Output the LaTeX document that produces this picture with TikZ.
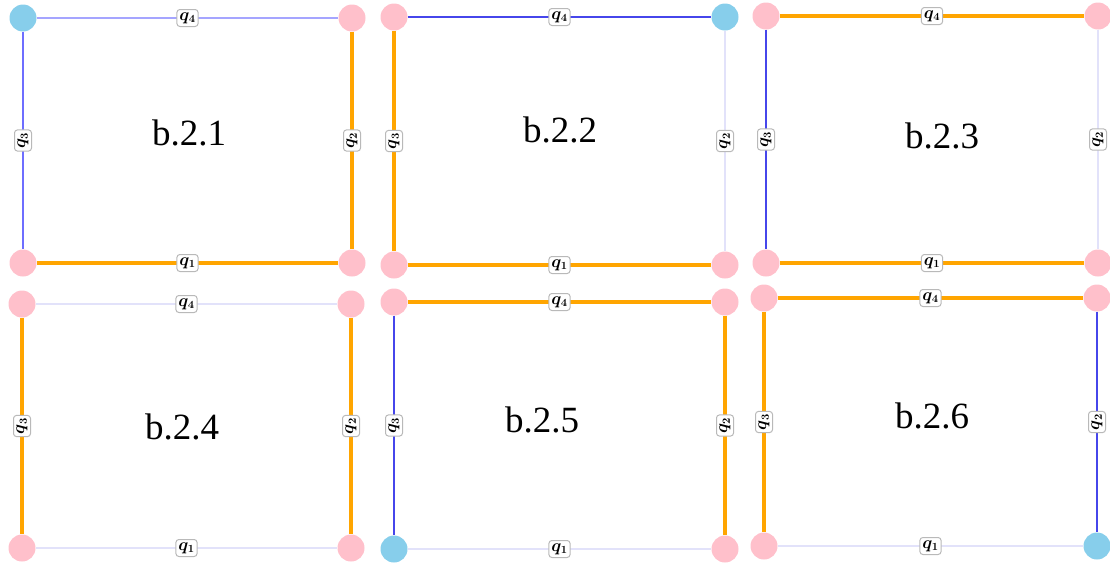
\documentclass[tikz,border=0pt]{standalone}
\usepackage{fontspec}
\setmainfont{Liberation Serif}
\definecolor{vpink}{RGB}{255,192,203}
\definecolor{vsky}{RGB}{135,206,235}
\definecolor{eorange}{RGB}{255,165,0}
\definecolor{eblue}{RGB}{70,70,235}
\definecolor{eblueA}{RGB}{110,110,255}
\definecolor{eblueB}{RGB}{165,165,255}
\definecolor{elight}{RGB}{226,226,250}
\begin{document}
\begin{tikzpicture}[x=1pt,y=-1pt,
  vp/.style={circle, fill=vpink, minimum size=27pt, inner sep=0pt},
  vb/.style={circle, fill=vsky, minimum size=27pt, inner sep=0pt},
  eo/.style={draw=eorange, line width=3.4pt},
  eb/.style={draw=eblue, line width=1.8pt},
  ebA/.style={draw=eblueA, line width=1.8pt},
  ebB/.style={draw=eblueB, line width=1.8pt},
  el/.style={draw=elight, line width=1.8pt},
  lbl/.style={draw=gray!55, line width=1pt, fill=white, rounded corners=3pt, inner xsep=2.5pt, inner ysep=2pt, minimum height=17pt, font=\fontsize{16}{18}\selectfont\boldmath},
  vl/.style={lbl, rotate=90},
  title/.style={font=\fontsize{37}{42}\selectfont}]
\useasboundingbox (0,0) rectangle (1110,565);

% Panel b.2.1
\node[vb] (a1) at (23,18) {};
\node[vp] (a2) at (352,18) {};
\node[vp] (a3) at (23,263) {};
\node[vp] (a4) at (352,263) {};
\draw[ebB] (a1) -- node[lbl] {$q_4$} (a2);
\draw[ebA] (a1) -- node[vl] {$q_3$} (a3);
\draw[eo] (a2) -- node[vl] {$q_2$} (a4);
\draw[eo] (a3) -- node[lbl] {$q_1$} (a4);
\node[title] (t1) at (189,133) {b.2.1};

% Panel b.2.2
\node[vp] (b1) at (394,17) {};
\node[vb] (b2) at (725,17) {};
\node[vp] (b3) at (394,265) {};
\node[vp] (b4) at (725,265) {};
\draw[eb] (b1) -- node[lbl] {$q_4$} (b2);
\draw[eo] (b1) -- node[vl] {$q_3$} (b3);
\draw[el] (b2) -- node[vl] {$q_2$} (b4);
\draw[eo] (b3) -- node[lbl] {$q_1$} (b4);
\node[title] (t2) at (560,130) {b.2.2};

% Panel b.2.3
\node[vp] (c1) at (766,16) {};
\node[vp] (c2) at (1098,16) {};
\node[vp] (c3) at (766,263) {};
\node[vp] (c4) at (1098,263) {};
\draw[eo] (c1) -- node[lbl] {$q_4$} (c2);
\draw[eb] (c1) -- node[vl] {$q_3$} (c3);
\draw[el] (c2) -- node[vl] {$q_2$} (c4);
\draw[eo] (c3) -- node[lbl] {$q_1$} (c4);
\node[title] (t3) at (942,136) {b.2.3};

% Panel b.2.4
\node[vp] (d1) at (22,304) {};
\node[vp] (d2) at (351,304) {};
\node[vp] (d3) at (22,548) {};
\node[vp] (d4) at (351,548) {};
\draw[el] (d1) -- node[lbl] {$q_4$} (d2);
\draw[eo] (d1) -- node[vl] {$q_3$} (d3);
\draw[eo] (d2) -- node[vl] {$q_2$} (d4);
\draw[el] (d3) -- node[lbl] {$q_1$} (d4);
\node[title] (t4) at (182,427) {b.2.4};

% Panel b.2.5
\node[vp] (e1) at (394,302) {};
\node[vp] (e2) at (725,302) {};
\node[vb] (e3) at (394,549) {};
\node[vp] (e4) at (725,549) {};
\draw[eo] (e1) -- node[lbl] {$q_4$} (e2);
\draw[eb] (e1) -- node[vl] {$q_3$} (e3);
\draw[eo] (e2) -- node[vl] {$q_2$} (e4);
\draw[el] (e3) -- node[lbl] {$q_1$} (e4);
\node[title] (t5) at (542,420) {b.2.5};

% Panel b.2.6
\node[vp] (f1) at (764,298) {};
\node[vp] (f2) at (1097,298) {};
\node[vp] (f3) at (764,546) {};
\node[vb] (f4) at (1097,546) {};
\draw[eo] (f1) -- node[lbl] {$q_4$} (f2);
\draw[eo] (f1) -- node[vl] {$q_3$} (f3);
\draw[eb] (f2) -- node[vl] {$q_2$} (f4);
\draw[el] (f3) -- node[lbl] {$q_1$} (f4);
\node[title] (t6) at (932,416) {b.2.6};
\end{tikzpicture}
\end{document}
